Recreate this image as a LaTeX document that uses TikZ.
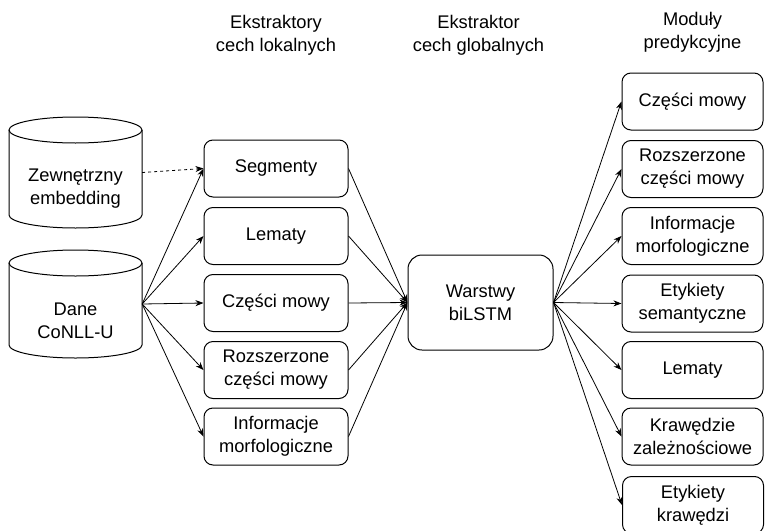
\documentclass[tikz,border=0pt]{standalone}
\usepackage{fontspec}
\setmainfont{Liberation Sans}
\usetikzlibrary{arrows.meta}
\begin{document}
\begin{tikzpicture}[x=1pt,y=-1pt,
  font=\fontsize{18.3}{23}\selectfont,
  box/.style={draw, line width=1pt, rounded corners=9pt, minimum width=144pt,
    minimum height=57pt, align=center, inner sep=0pt},
  rbox/.style={box, minimum width=141pt},
  cylnode/.style={minimum width=133pt, inner sep=0pt},
  cylline/.style={line width=1pt},
  txt/.style={align=center, inner sep=0pt},
  arr/.style={line width=0.8pt, -{Stealth[length=8pt,width=6pt,inset=2.5pt]}}]
\useasboundingbox (0,0) rectangle (765,530);

% headers
\node[txt] at (276,35.5) {Ekstraktory\\cech lokalnych};
\node[txt] at (478.5,35.5) {Ekstraktor\\cech globalnych};
\node[txt] at (692.5,32) {Moduły\\predykcyjne};

% cylinders
\draw[cylline] (9,130) -- (9,215) arc[start angle=180,end angle=360,x radius=66.5pt,y radius=13pt] -- (142,130);
\draw[cylline] (75.5,130) ellipse[x radius=66.5pt, y radius=13pt];
\node[cylnode, minimum height=111pt] (zew) at (75.5,172.5) {};
\node[txt] at (75.5,189) {Zewnętrzny\\embedding};

\draw[cylline] (9,263) -- (9,345) arc[start angle=180,end angle=360,x radius=66.5pt,y radius=13pt] -- (142,263);
\draw[cylline] (75.5,263) ellipse[x radius=66.5pt, y radius=13pt];
\node[cylnode, minimum height=108pt] (dane) at (75.5,304) {};
\node[txt] at (75.5,321) {Dane\\CoNLL-U};

% left column
\node[box] (l1) at (276,168.5) {Segmenty};
\node[box] (l2) at (276,236) {Lematy};
\node[box] (l3) at (276,303) {Części mowy};
\node[box] (l4) at (276,370) {Rozszerzone\\części mowy};
\node[box] (l5) at (276,436.5) {Informacje\\morfologiczne};

% middle
\node[box, minimum width=145pt, minimum height=95pt, rounded corners=14pt] (w) at (480.5,302.5) {Warstwy\\biLSTM};

% right column
\node[rbox] (r1) at (692.5,101.5) {Części mowy};
\node[rbox] (r2) at (692.5,169) {Rozszerzone\\części mowy};
\node[rbox] (r3) at (692.5,236) {Informacje\\morfologiczne};
\node[rbox] (r4) at (692.5,303.5) {Etykiety\\semantyczne};
\node[rbox] (r5) at (692.5,370) {Lematy};
\node[rbox] (r6) at (692.5,436.5) {Krawędzie\\zależnościowe};
\node[rbox] (r7) at (693,505) {Etykiety\\krawędzi};

% connectors
\draw[arr, dash pattern=on 3pt off 3pt] (zew.east) -- (l1.west);
\foreach \i in {1,...,5} {
  \draw[arr] (dane.east) -- (l\i.west);
  \draw[arr] (l\i.east) -- (w.west);
}
\foreach \i in {1,...,7} {
  \draw[arr] (w.east) -- (r\i.west);
}
\end{tikzpicture}
\end{document}
